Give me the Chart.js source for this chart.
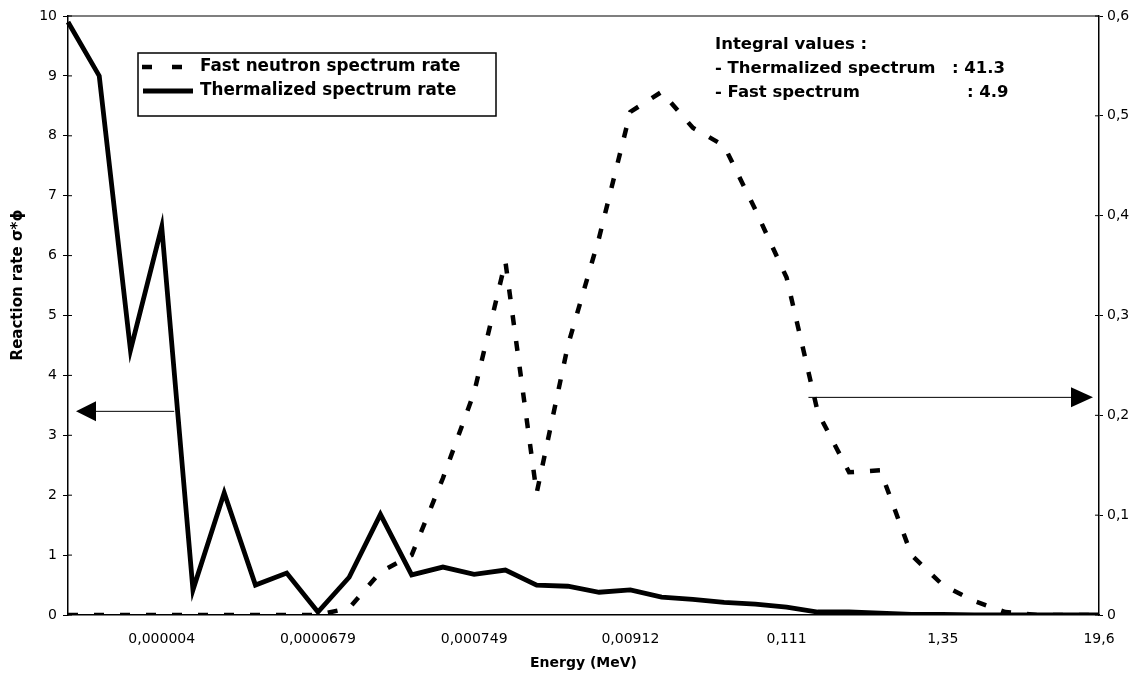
<!DOCTYPE html>
<html><head><meta charset="utf-8">
<script src="https://cdn.jsdelivr.net/npm/chart.js@4.4.1/dist/chart.umd.min.js"></script>
<style>html,body{margin:0;padding:0;background:#fff}#wrap{width:1143px;height:677px;position:relative}</style>
</head><body><div id="wrap"><canvas id="c" width="1143" height="677"></canvas></div>
<script>
// Energy categories (MeV); only every fifth category carries a printed label
const categories = ["","","","0,000004","","","","","0,0000679","","","","","0,000749","","","","","0,00912","","","","","0,111","","","","","1,35","","","","","19,6"];
// Thermalized spectrum rate (left axis)
const thermalized = [9.9,9.0,4.42,6.48,0.42,2.04,0.5,0.7,0.05,0.63,1.68,0.67,0.8,0.68,0.75,0.5,0.48,0.38,0.42,0.3,0.26,0.21,0.18,0.13,0.05,0.05,0.03,0.01,0.01,0,0,0,0,0];
// Fast neutron spectrum rate (right axis)
const fast = [0,0,0,0,0,0,0,0,0,0.007,0.043,0.06,0.137,0.223,0.354,0.122,0.27,0.378,0.504,0.524,0.488,0.47,0.406,0.338,0.203,0.143,0.145,0.06,0.03,0.014,0.003,0,0,0];
// Axis ranges
const leftAxis = [0, 10, 1];
const rightAxis = [0, 0.6, 0.1];
// Integral values box
const integralTitle = "Integral values :";
const integralNames = ["- Thermalized spectrum", "- Fast spectrum"];
const integralValues = [": 41.3", ": 4.9"];
// Arrow anchors (value on own axis, category index where the arrow starts)
const leftArrow = [3.4, 3.4];
const rightArrow = [0.218, 23.7];

const FONT = "'DejaVu Sans', 'Liberation Sans', Arial, sans-serif";

const decor = {
  id: 'decor',
  afterDraw(chart) {
    const ctx = chart.ctx, a = chart.chartArea;
    const sx = chart.scales.x, sy = chart.scales.y, sy1 = chart.scales.y1;
    ctx.save();
    ctx.strokeStyle = '#000'; ctx.fillStyle = '#000';
    // top frame line
    ctx.lineWidth = 1.2;
    ctx.beginPath(); ctx.moveTo(a.left, a.top); ctx.lineTo(a.right, a.top); ctx.stroke();
    // inner tick parts
    ctx.lineWidth = 1;
    sy.ticks.forEach(t => { const p = sy.getPixelForValue(t.value); ctx.beginPath(); ctx.moveTo(a.left, p); ctx.lineTo(a.left + 4, p); ctx.stroke(); });
    sy1.ticks.forEach(t => { const p = sy1.getPixelForValue(t.value); ctx.beginPath(); ctx.moveTo(a.right - 4, p); ctx.lineTo(a.right, p); ctx.stroke(); });

    // legend box
    const ds = chart.data.datasets;
    ctx.lineWidth = 1.5;
    ctx.strokeRect(138, 53, 358, 63);
    ctx.font = "bold 16.8px " + FONT;
    ctx.textBaseline = 'middle'; ctx.textAlign = 'left';
    const rows = [67, 91];
    ds.forEach((d, i) => {
      ctx.save();
      ctx.lineWidth = d.borderWidth;
      ctx.setLineDash(d.borderDash ? [10, 20] : []);
      ctx.beginPath();
      ctx.moveTo(d.borderDash ? 142 : 143, rows[i]);
      ctx.lineTo(d.borderDash ? 185 : 193, rows[i]);
      ctx.stroke();
      ctx.restore();
      ctx.fillText(d.label, 200, rows[i]);
    });

    // integral values text
    ctx.font = "bold 16.5px " + FONT;
    ctx.fillText(integralTitle, 715, 45);
    ctx.fillText(integralNames[0], 715, 69);
    ctx.fillText(integralValues[0], 952, 69);
    ctx.fillText(integralNames[1], 715, 93);
    ctx.fillText(integralValues[1], 967, 93);

    // arrows
    ctx.lineWidth = 1;
    const ly = sy.getPixelForValue(leftArrow[0]);
    const lx = sx.getPixelForValue(leftArrow[1]);
    const tipL = a.left + 8;
    ctx.beginPath(); ctx.moveTo(lx, ly); ctx.lineTo(tipL + 18, ly); ctx.stroke();
    ctx.beginPath(); ctx.moveTo(tipL, ly); ctx.lineTo(tipL + 20, ly - 10); ctx.lineTo(tipL + 20, ly + 10); ctx.closePath(); ctx.fill();
    const ry = sy1.getPixelForValue(rightArrow[0]);
    const rx = sx.getPixelForValue(rightArrow[1]);
    const tipR = a.right - 6;
    ctx.beginPath(); ctx.moveTo(rx, ry); ctx.lineTo(tipR - 18, ry); ctx.stroke();
    ctx.beginPath(); ctx.moveTo(tipR, ry); ctx.lineTo(tipR - 22, ry - 10); ctx.lineTo(tipR - 22, ry + 10); ctx.closePath(); ctx.fill();

    // y axis title
    ctx.save();
    ctx.translate(18, 285);
    ctx.rotate(-Math.PI / 2);
    ctx.textAlign = 'center'; ctx.textBaseline = 'middle';
    ctx.font = "bold 15px " + FONT;
    ctx.fillText("Reaction rate σ*ϕ", 0, 0);
    ctx.restore();
    ctx.restore();
  }
};

new Chart(document.getElementById('c'), {
  type: 'line',
  data: {
    labels: categories,
    datasets: [
      { label: 'Fast neutron spectrum rate', data: fast, yAxisID: 'y1', borderColor: '#000', backgroundColor: '#000',
        borderWidth: 4.5, borderDash: [10, 16], pointRadius: 0, tension: 0, fill: false, borderCapStyle: 'butt' },
      { label: 'Thermalized spectrum rate', data: thermalized, yAxisID: 'y', borderColor: '#000', backgroundColor: '#000',
        borderWidth: 4.8, pointRadius: 0, tension: 0, fill: false, borderJoinStyle: 'miter' }
    ]
  },
  options: {
    responsive: false,
    animation: false,
    devicePixelRatio: 1,
    layout: { padding: { top: 16, left: 0, right: 0, bottom: 0 } },
    plugins: { legend: { display: false }, tooltip: { enabled: false } },
    scales: {
      x: {
        type: 'category', offset: false,
        grid: { display: false },
        border: { display: true, color: '#000', width: 1.5 },
        ticks: { autoSkip: false, maxRotation: 0, minRotation: 0, color: '#000', padding: 8, font: { family: FONT, size: 14 } },
        title: { display: true, text: 'Energy (MeV)', color: '#000', font: { family: FONT, size: 14, weight: 'bold' }, padding: { top: 0, bottom: 5 } },
        afterFit: s => { s.height = 62; }
      },
      y: {
        position: 'left', min: leftAxis[0], max: leftAxis[1],
        grid: { display: true, drawOnChartArea: false, tickLength: 5, color: '#000' },
        border: { display: true, color: '#000', width: 1.5 },
        ticks: { stepSize: leftAxis[2], color: '#000', padding: 6, font: { family: FONT, size: 14 } },
        afterFit: s => { s.width = 68; }
      },
      y1: {
        position: 'right', min: rightAxis[0], max: rightAxis[1],
        grid: { display: true, drawOnChartArea: false, tickLength: 4, color: '#000' },
        border: { display: true, color: '#000', width: 1.5 },
        ticks: { stepSize: rightAxis[2], color: '#000', padding: 4, font: { family: FONT, size: 14 },
          callback: v => v === 0 ? '0' : (Math.round(v * 10) / 10).toFixed(1).replace('.', ',') },
        afterFit: s => { s.width = 44; }
      }
    }
  },
  plugins: [decor]
});
</script>
</body></html>
